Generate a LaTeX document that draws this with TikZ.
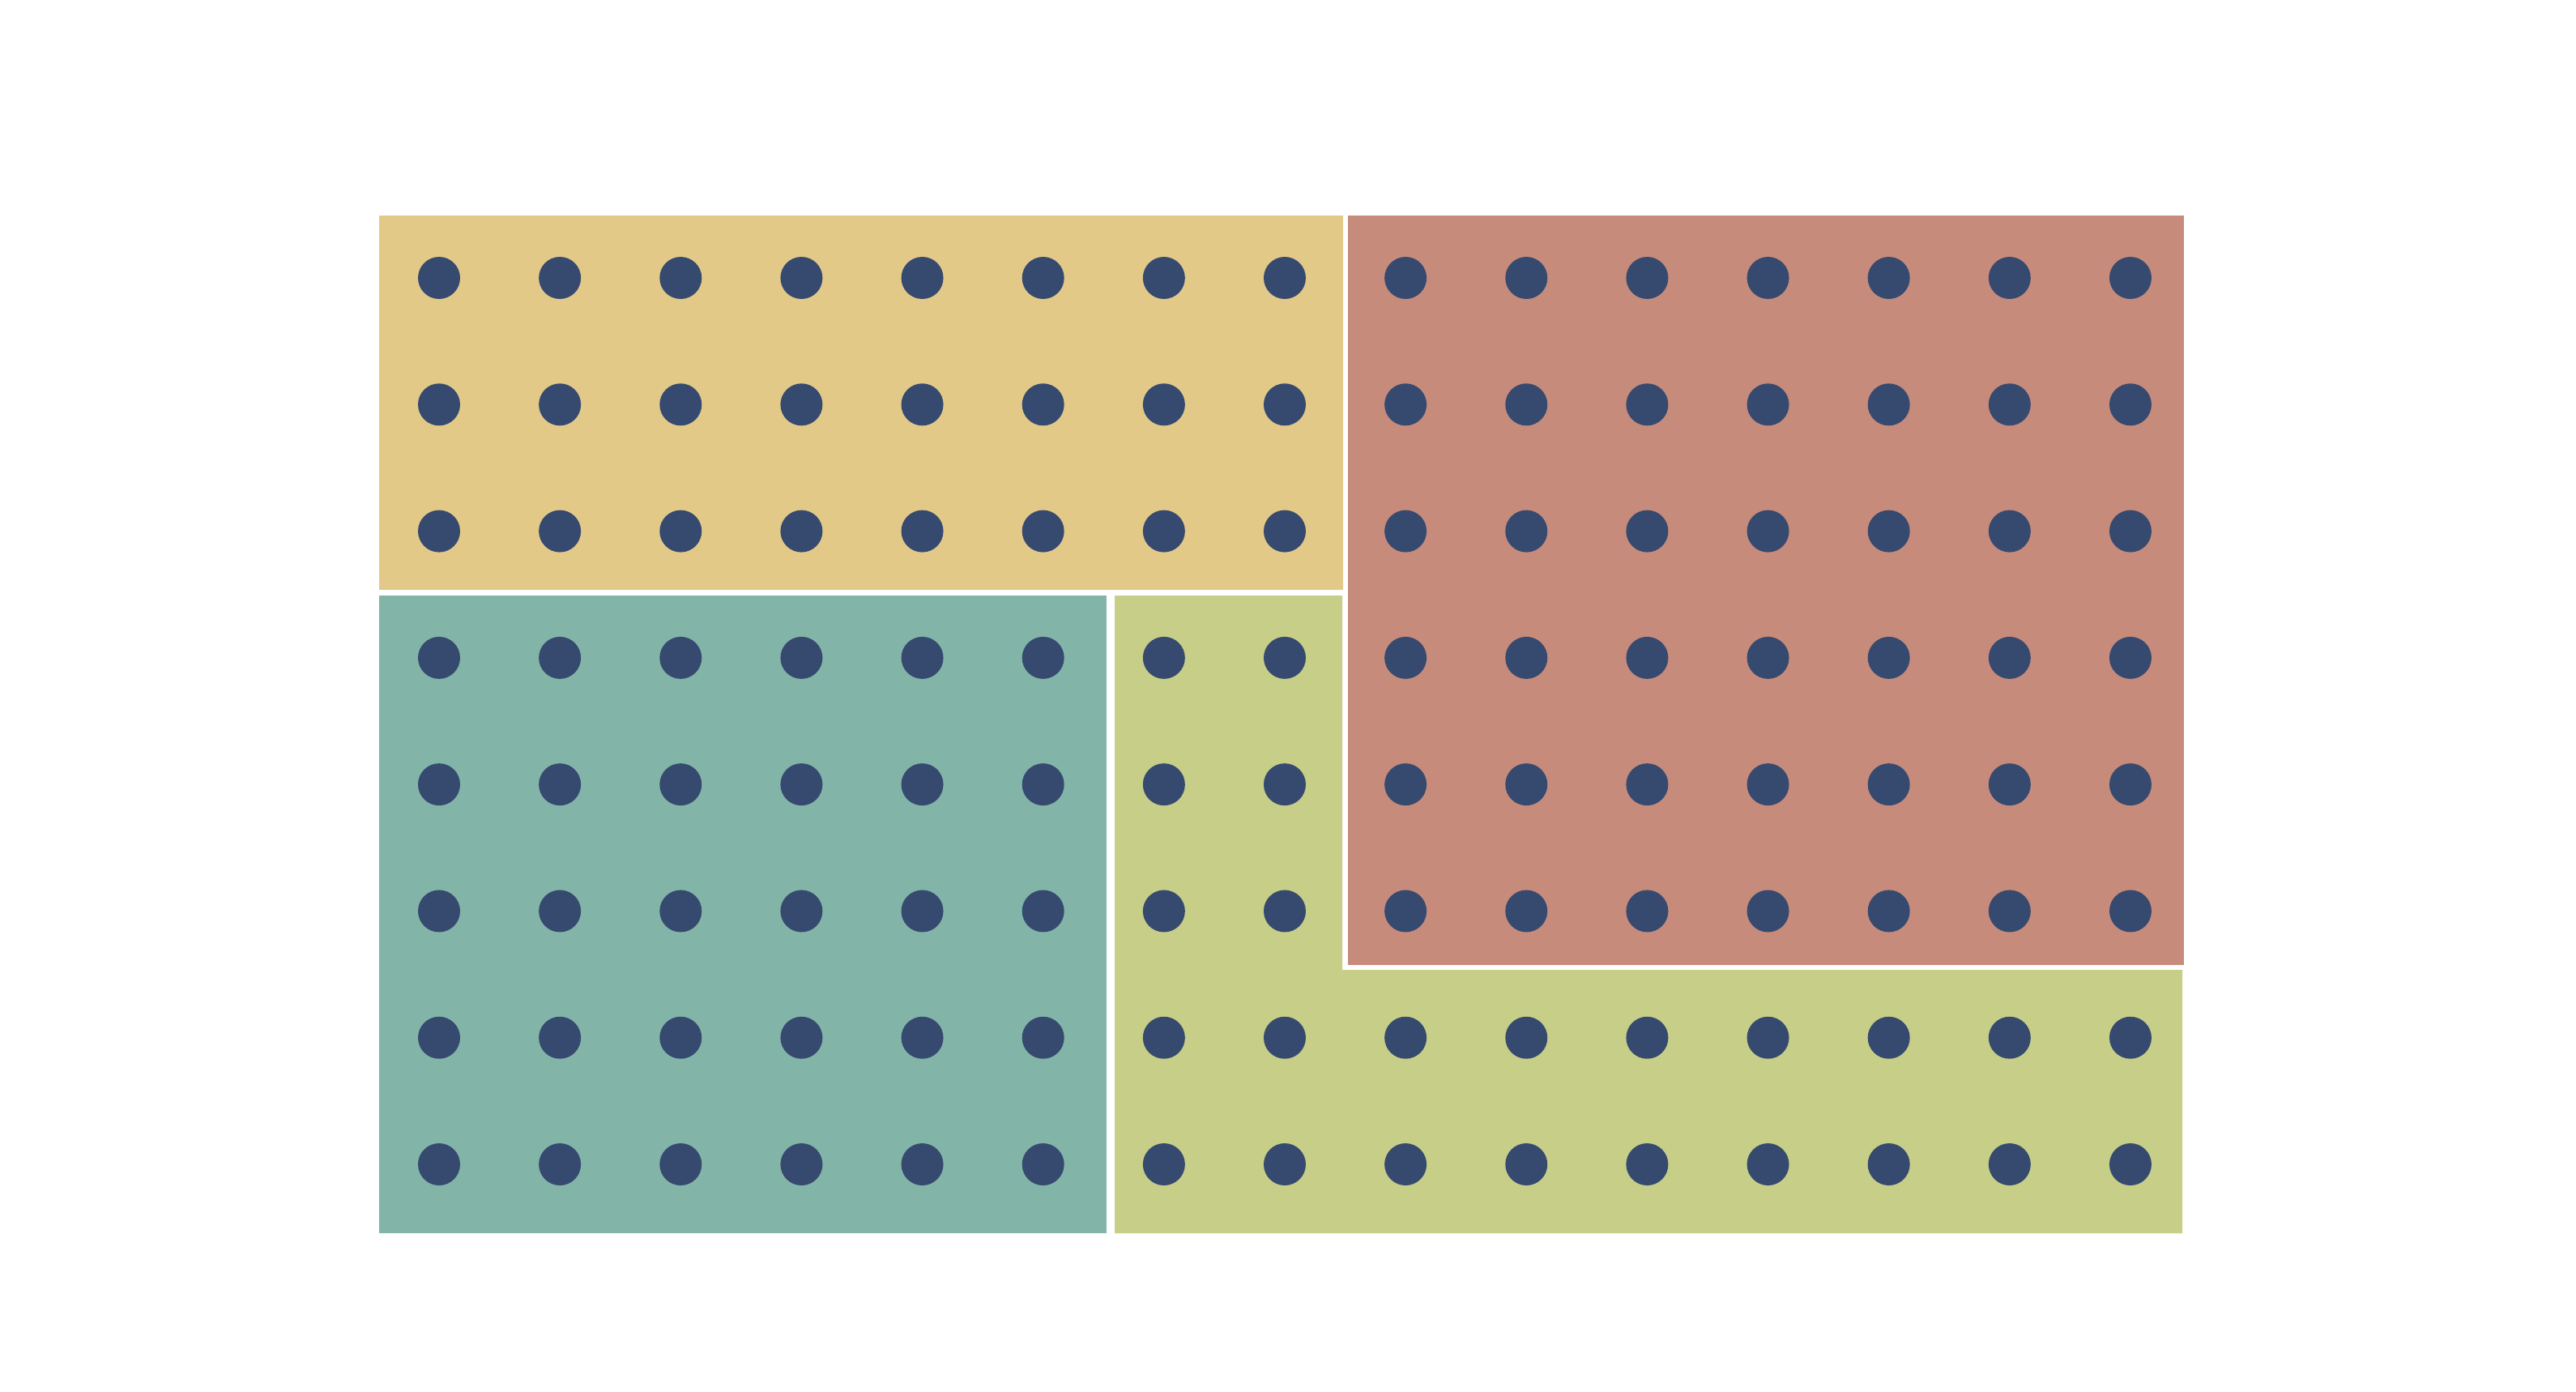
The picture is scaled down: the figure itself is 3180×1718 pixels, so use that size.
\documentclass[tikz,border=0pt]{standalone}
\usepackage{tikz}
\definecolor{regyellow}{RGB}{226,201,136}
\definecolor{regred}{RGB}{198,139,123}
\definecolor{regteal}{RGB}{131,180,168}
\definecolor{reggreen}{RGB}{199,206,135}
\definecolor{dotblue}{RGB}{54,74,112}
\begin{document}
\begin{tikzpicture}[x=0.01cm,y=-0.01cm,
  region/.style={draw=none},
  gdot/.style={fill=dotblue,draw=none}]
\useasboundingbox (0,0) rectangle (3180,1718);
\fill[white] (0,0) rectangle (3180,1718);
% regions
\fill[regyellow,region] (468,266) rectangle (1658,728);
\fill[regred,region] (1664,266) rectangle (2696,1191);
\fill[regteal,region] (468,735) rectangle (1366,1522);
\fill[reggreen,region] (1376,735) -- (1657,735) -- (1657,1197) -- (2694,1197) -- (2694,1522) -- (1376,1522) -- cycle;
% dots
\foreach \i in {0,...,14}{
  \foreach \j in {0,...,7}{
    \fill[gdot] ({542+149.14*\i},{343+156.29*\j}) circle[radius=26];
  }
}
\end{tikzpicture}
\end{document}
